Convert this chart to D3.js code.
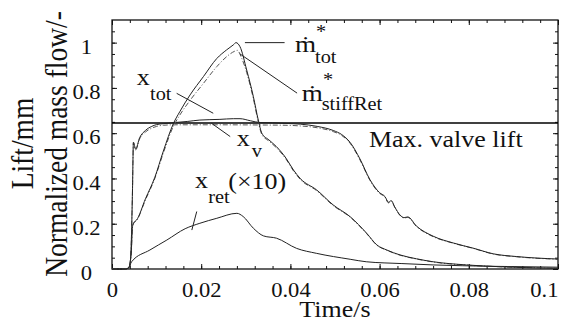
<!DOCTYPE html>
<html>
<head>
<meta charset="utf-8">
<script src="https://cdn.jsdelivr.net/npm/d3@7"></script>
<style>
body { margin: 0; background: #fff; }
</style>
</head>
<body>
<svg id="chart"></svg>
<script>
// ---- data ----
// normalized total mass flow (solid)
const mTotTime  = [0, 0.0030, 0.0037, 0.0043, 0.0046, 0.0049, 0.0055, 0.0075, 0.0096, 0.0115, 0.0138, 0.0152, 0.0175, 0.0205, 0.0235, 0.0257, 0.0272, 0.0278, 0.0287, 0.0302, 0.0317, 0.0328, 0.0336, 0.0352, 0.0369, 0.0390, 0.0407, 0.0422, 0.0459, 0.0496, 0.0534, 0.0571, 0.0594, 0.0616, 0.0646, 0.0683, 0.0720, 0.0795, 0.0870, 0.0950, 0.1000];
const mTotValue = [0, 0, 0.005, 0.070, 0.187, 0.205, 0.216, 0.310, 0.405, 0.520, 0.644, 0.695, 0.769, 0.850, 0.930, 0.968, 0.990, 1.000, 0.982, 0.879, 0.761, 0.658, 0.600, 0.570, 0.540, 0.490, 0.437, 0.400, 0.349, 0.283, 0.231, 0.158, 0.106, 0.084, 0.062, 0.045, 0.032, 0.018, 0.010, 0.005, 0.003];
// normalized mass flow, stiff retainer (dash-dot)
const mStiffTime  = [0, 0.0030, 0.0037, 0.0043, 0.0046, 0.0049, 0.0055, 0.0075, 0.0096, 0.0115, 0.0138, 0.0152, 0.0175, 0.0205, 0.0235, 0.0257, 0.0275, 0.0281, 0.0290, 0.0302, 0.0317, 0.0328, 0.0336, 0.0352, 0.0369, 0.0390, 0.0407, 0.0422, 0.0459, 0.0496, 0.0534, 0.0571, 0.0594, 0.0616, 0.0646, 0.0683, 0.0720, 0.0795, 0.0870, 0.0950, 0.1000];
const mStiffValue = [0, 0, 0.005, 0.070, 0.185, 0.203, 0.214, 0.305, 0.400, 0.512, 0.632, 0.680, 0.745, 0.820, 0.894, 0.938, 0.962, 0.966, 0.935, 0.868, 0.752, 0.650, 0.594, 0.565, 0.535, 0.486, 0.433, 0.396, 0.346, 0.280, 0.229, 0.156, 0.105, 0.083, 0.061, 0.044, 0.031, 0.017, 0.010, 0.005, 0.003];
// valve lift x_v (dash-dot)
const xVTime  = [0, 0.0030, 0.0040, 0.0043, 0.0046, 0.0048, 0.0053, 0.0062, 0.0075, 0.0089, 0.0100, 0.0115, 0.0140, 0.0227, 0.0347, 0.0390, 0.0422, 0.0460, 0.0496, 0.0515, 0.0534, 0.0556, 0.0578, 0.0600, 0.0612, 0.0620, 0.0626, 0.0634, 0.0646, 0.0655, 0.0663, 0.0683, 0.0720, 0.0765, 0.0810, 0.0855, 0.0907, 0.1000];
const xVValue = [0, 0, 0.010, 0.100, 0.350, 0.558, 0.526, 0.575, 0.605, 0.622, 0.630, 0.635, 0.637, 0.637, 0.636, 0.635, 0.632, 0.624, 0.607, 0.590, 0.555, 0.482, 0.393, 0.334, 0.318, 0.292, 0.300, 0.272, 0.236, 0.225, 0.228, 0.187, 0.143, 0.114, 0.091, 0.066, 0.054, 0.043];
// total lift x_tot (solid)
const xTotTime  = [0, 0.0030, 0.0040, 0.0043, 0.0046, 0.0048, 0.0053, 0.0062, 0.0075, 0.0089, 0.0100, 0.0115, 0.0141, 0.0170, 0.0197, 0.0242, 0.0272, 0.0287, 0.0310, 0.0332, 0.0360, 0.0390, 0.0422, 0.0460, 0.0496, 0.0515, 0.0534, 0.0556, 0.0578, 0.0600, 0.0612, 0.0620, 0.0626, 0.0634, 0.0646, 0.0655, 0.0663, 0.0683, 0.0720, 0.0765, 0.0810, 0.0855, 0.0907, 0.1000];
const xTotValue = [0, 0, 0.010, 0.102, 0.355, 0.560, 0.530, 0.580, 0.612, 0.630, 0.638, 0.642, 0.647, 0.652, 0.658, 0.661, 0.664, 0.664, 0.655, 0.647, 0.646, 0.643, 0.640, 0.630, 0.612, 0.594, 0.559, 0.486, 0.396, 0.337, 0.320, 0.295, 0.302, 0.274, 0.238, 0.227, 0.230, 0.189, 0.145, 0.115, 0.092, 0.067, 0.055, 0.044];
// retainer lift x_ret, times 10 (solid)
const xRetTime  = [0, 0.0030, 0.0037, 0.0044, 0.0085, 0.0123, 0.0164, 0.0197, 0.0235, 0.0280, 0.0294, 0.0317, 0.0340, 0.0369, 0.0414, 0.0459, 0.0534, 0.0570, 0.0650, 0.0720, 0.0850, 0.1000];
const xRetValue = [0, 0, 0.005, 0.032, 0.084, 0.128, 0.178, 0.202, 0.224, 0.246, 0.232, 0.180, 0.146, 0.136, 0.091, 0.069, 0.043, 0.032, 0.024, 0.018, 0.012, 0.008];

const maxValveLift = 0.645;

const xTickValues = [0, 0.02, 0.04, 0.06, 0.08, 0.1];
const xTickLabels = ["0", "0.02", "0.04", "0.06", "0.08", "0.1"];
const yTickValues = [0, 0.2, 0.4, 0.6, 0.8, 1];
const yTickLabels = ["0", "0.2", "0.4", "0.6", "0.8", "1"];
const xMinorStep = 0.004;
const yMinorStep = 0.05;

// ---- layout ----
const width = 572, height = 331;
const margin = {top: 20, right: 14, bottom: 62, left: 112};
const stretch = 1.13;   // the text in the figure is a little wide
const fontFamily = '"Liberation Serif"';

const svg = d3.select("#chart").attr("width", width).attr("height", height);

const x = d3.scaleLinear().domain([0, 0.1]).range([margin.left, width - margin.right]);
const y = d3.scaleLinear().domain([0, 1.1]).range([height - margin.bottom, margin.top]);

const xMinor = d3.range(0, 26).map(i => +(i * xMinorStep).toFixed(3));
const yMinor = d3.range(0, 22).map(i => +(i * yMinorStep).toFixed(2));

function axisStyle(g) {
   g.select(".domain").remove();
   g.selectAll(".tick line").attr("stroke", "#111").attr("stroke-width", 1);
}

// minor ticks, all four sides, pointing in
svg.append("g").attr("transform", `translate(0,${y(0)})`)
   .call(d3.axisBottom(x).tickValues(xMinor).tickSize(-3).tickFormat(""))
   .call(axisStyle);
svg.append("g").attr("transform", `translate(0,${y(1.1)})`)
   .call(d3.axisTop(x).tickValues(xMinor).tickSize(-3).tickFormat(""))
   .call(axisStyle);
svg.append("g").attr("transform", `translate(${x(0)},0)`)
   .call(d3.axisLeft(y).tickValues(yMinor).tickSize(-3).tickFormat(""))
   .call(axisStyle);
svg.append("g").attr("transform", `translate(${x(0.1)},0)`)
   .call(d3.axisRight(y).tickValues(yMinor).tickSize(-3).tickFormat(""))
   .call(axisStyle);

// major ticks
svg.append("g").attr("transform", `translate(0,${y(1.1)})`)
   .call(d3.axisTop(x).tickValues(xTickValues).tickSize(-5).tickFormat(""))
   .call(axisStyle);
svg.append("g").attr("transform", `translate(${x(0.1)},0)`)
   .call(d3.axisRight(y).tickValues(yTickValues).tickSize(-5).tickFormat(""))
   .call(axisStyle);

let bottomAxis = svg.append("g").attr("transform", `translate(0,${y(0)})`)
   .call(d3.axisBottom(x).tickValues(xTickValues).tickSize(-5)
      .tickFormat((d, i) => xTickLabels[i]))
   .call(axisStyle);
bottomAxis.selectAll(".tick text")
   .attr("y", 27.7).attr("dy", 0)
   .attr("font-size", 20).attr("fill", "#111")
   .style("font-family", fontFamily)
   .attr("transform", `scale(${stretch},1)`)
   .attr("text-anchor", (d, i) => i === xTickValues.length - 1 ? "end" : "middle");

let leftAxis = svg.append("g").attr("transform", `translate(${x(0)},0)`)
   .call(d3.axisLeft(y).tickValues(yTickValues).tickSize(-5)
      .tickFormat((d, i) => yTickLabels[i]))
   .call(axisStyle);
leftAxis.selectAll(".tick text")
   .attr("x", -25.5 / stretch).attr("dy", 0).attr("y", 10.8)
   .attr("font-size", 20).attr("fill", "#111")
   .style("font-family", fontFamily)
   .attr("text-anchor", "middle")
   .attr("transform", `scale(${stretch},1)`);

// frame
svg.append("rect")
   .attr("x", x(0)).attr("y", y(1.1))
   .attr("width", x(0.1) - x(0)).attr("height", y(0) - y(1.1))
   .attr("fill", "none").attr("stroke", "#111").attr("stroke-width", 1.3);

// max valve lift reference
svg.append("line")
   .attr("x1", x(0)).attr("x2", x(0.1))
   .attr("y1", y(maxValveLift)).attr("y2", y(maxValveLift))
   .attr("stroke", "#000").attr("stroke-width", 1.4);

// curves
const line = d3.line().x(d => x(d[0])).y(d => y(d[1])).curve(d3.curveMonotoneX);
const series = [
   {t: xRetTime,   v: xRetValue,   dash: null},
   {t: xVTime,     v: xVValue,     dash: "5,2,1,2"},
   {t: xTotTime,   v: xTotValue,   dash: null},
   {t: mStiffTime, v: mStiffValue, dash: "5,2,1,2"},
   {t: mTotTime,   v: mTotValue,   dash: null}
];
svg.append("g").selectAll("path")
   .data(series)
   .join("path")
      .attr("d", s => line(d3.zip(s.t, s.v)))
      .attr("fill", "none")
      .attr("stroke", s => s.dash ? "#555" : "#222")
      .attr("stroke-width", 1)
      .attr("stroke-dasharray", s => s.dash);

// leader lines (data coordinates)
const leaders = [
   [0.0298, 1.000, 0.0387, 1.000],
   [0.0287, 0.950, 0.0415, 0.777],
   [0.0145, 0.776, 0.0227, 0.688],
   [0.0223, 0.644, 0.0265, 0.585],
   [0.0190, 0.254, 0.0179, 0.172]
];
svg.append("g").selectAll("line")
   .data(leaders)
   .join("line")
      .attr("x1", d => x(d[0])).attr("y1", d => y(d[1]))
      .attr("x2", d => x(d[2])).attr("y2", d => y(d[3]))
      .attr("stroke", "#222").attr("stroke-width", 1);

// text helper
function addText(parent, str, tx, ty, size, extra = "") {
   return parent.append("text")
      .attr("transform", `translate(${tx},${ty}) scale(${stretch},1)${extra}`)
      .attr("font-size", size)
      .attr("fill", "#111")
      .style("font-family", fontFamily)
      .text(str);
}

// labels: anchor in data units, pieces offset in px
function label(t, v, parts) {
   let g = svg.append("g").attr("transform", `translate(${x(t)},${y(v)})`);
   parts.forEach(p => addText(g, p.text, p.dx, p.dy, p.size));
}
label(0.04103, 0.9589, [
   {text: "ṁ", dx: 0, dy: 0, size: 24},
   {text: "*", dx: 21, dy: -13.5, size: 18},
   {text: "tot", dx: 20, dy: 11.3, size: 18}
]);
label(0.04253, 0.7423, [
   {text: "ṁ", dx: 0, dy: 0, size: 24},
   {text: "*", dx: 21.3, dy: -14.5, size: 18},
   {text: "stiffRet", dx: 20, dy: 9, size: 18}
]);
label(0.00554, 0.8131, [
   {text: "x", dx: 0, dy: 0, size: 23},
   {text: "tot", dx: 13.3, dy: 15, size: 18}
]);
label(0.02796, 0.5435, [
   {text: "x", dx: 0, dy: 0, size: 23},
   {text: "v", dx: 15, dy: 11, size: 18}
]);
label(0.01861, 0.3579, [
   {text: "x", dx: 0, dy: 0, size: 23},
   {text: "ret", dx: 13.3, dy: 15, size: 18},
   {text: "(×10)", dx: 33.3, dy: 1, size: 23}
]);
label(0.05762, 0.5404, [
   {text: "Max. valve lift", dx: 0, dy: 0, size: 23}
]);

// axis titles
addText(svg, "Time/s", (x(0) + x(0.1)) / 2, 316.7, 23).attr("text-anchor", "middle");
addText(svg, "Lift/mm", 33, 143.5, 27.5, " rotate(-90)").attr("text-anchor", "middle");
addText(svg, "Normalized mass flow/-", 66.7, 144, 27.5, " rotate(-90)").attr("text-anchor", "middle");
</script>
</body>
</html>
